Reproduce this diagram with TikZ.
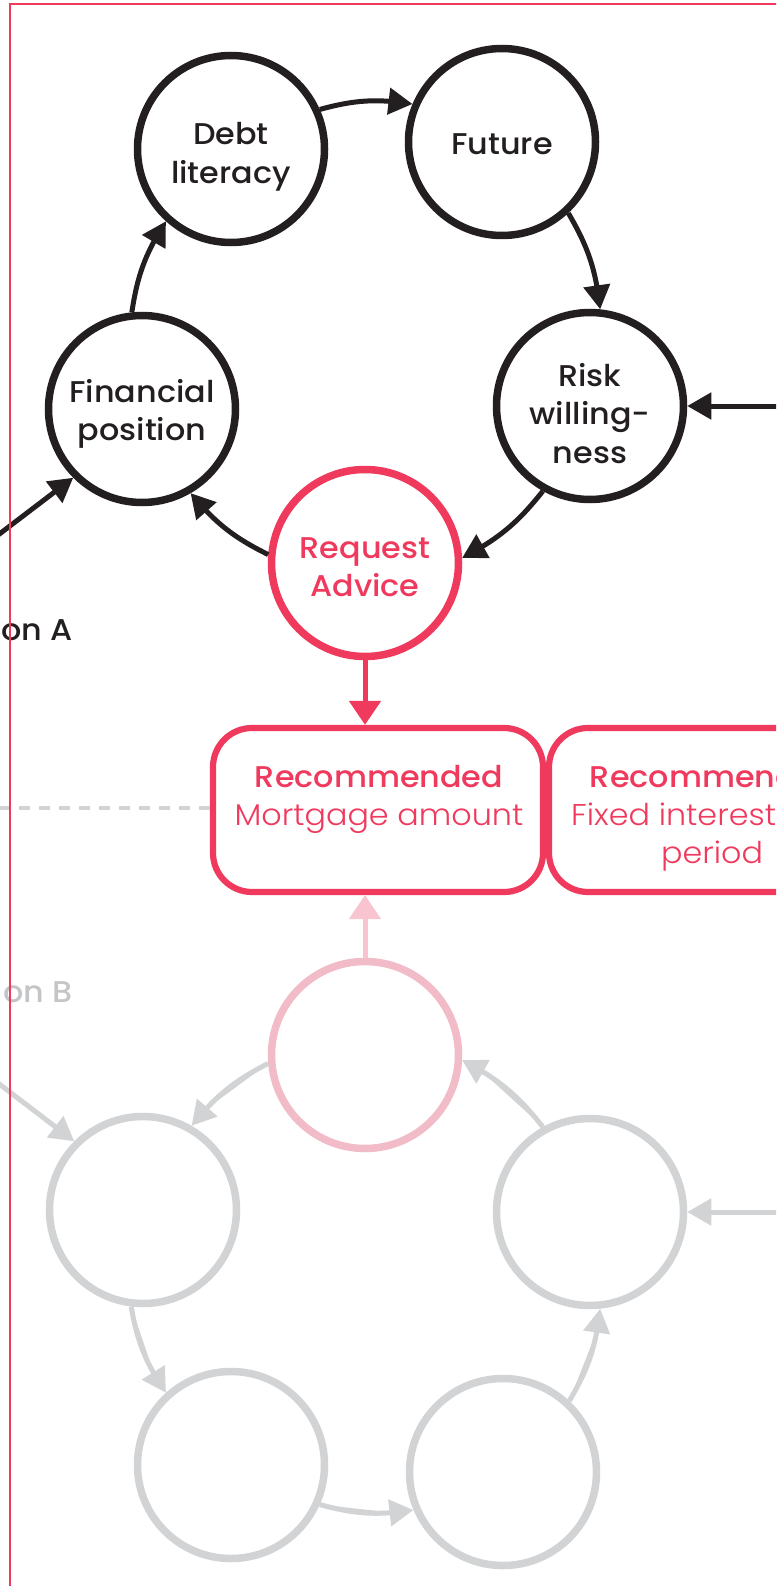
\documentclass[tikz,border=0pt]{standalone}
\usepackage{fontspec}
\setmainfont{Poppins}[FakeStretch=1.06]
\newfontfamily\fmed{Poppins Medium}[FakeStretch=1.06]
\newfontfamily\flight{Poppins Light}[FakeStretch=1.06]
\usetikzlibrary{arrows.meta,bending}
\definecolor{ink}{HTML}{231F20}
\definecolor{rred}{HTML}{EF3A5D}
\definecolor{pinkc}{HTML}{F1BCC8}
\definecolor{pinka}{HTML}{F7C4CF}
\definecolor{lgray}{HTML}{D1D3D4}
\definecolor{tgray}{HTML}{C4C5C7}
\tikzset{
  circ/.style={circle, draw=ink, line width=7.5pt, minimum size=187pt, inner sep=0pt},
  redcirc/.style={circ, draw=rred},
  pinkcirc/.style={circ, draw=pinkc},
  graycirc/.style={circ, draw=lgray},
  ctext/.style={align=center, inner sep=0pt, text depth=0pt, text=ink,
    font=\fmed\fontsize{30}{38.5}\selectfont},
  arr/.style={draw=ink, line width=5pt, -{Triangle[length=24pt,width=26pt,flex]}},
  garr/.style={arr, draw=lgray, fill=lgray},
  redarr/.style={draw=rred, line width=5pt, -{Triangle[length=24pt,width=31pt]}},
  pinkarr/.style={draw=pinka, line width=5pt, -{Triangle[length=24pt,width=31pt]}},
  recbox/.style={draw=rred, line width=6.2pt, rounded corners=39pt, minimum width=330pt,
    minimum height=164pt, inner sep=0pt},
  boxtext/.style={anchor=base, inner sep=0pt, text=rred, font=\fmed\fontsize{30}{38.5}\selectfont},
  boxlight/.style={boxtext, font=\flight\fontsize{30}{38.5}\selectfont},
  sidelbl/.style={anchor=base east, inner sep=0pt, font=\fmed\fontsize{30}{36}\selectfont},
}
\begin{document}
\begin{tikzpicture}[x=1pt,y=1pt]
\useasboundingbox (0,0) rectangle (776,-1586);
\clip (0,0) rectangle (776,-1586);
% top cycle
\node[redcirc] (req) at (365,-563) {};
\node[circ] (fin) at (142,-409) {};
\node[circ] (debt) at (231,-149) {};
\node[circ] (fut) at (502,-142) {};
\node[circ] (risk) at (590,-406) {};
\node[ctext, text=rred] (reqt) at ([yshift=-4pt]req.center) {Request\\Advice};
\node[ctext] (fint) at ([yshift=-1pt]fin.center) {Financial\\position};
\node[ctext] (debtt) at ([yshift=-4pt]debt.center) {Debt\\literacy};
\node[ctext] (futt) at ([yshift=-2pt]fut.center) {Future};
\node[ctext] (riskt) at ([yshift=-7pt]risk.center) {Risk\\willing-\\ness};
\draw[arr] (fin.96.5) to[bend left=12] (debt.228);
\draw[arr] (debt.24) to[bend left=12] (fut.157);
\draw[arr] (fut.-47) to[bend left=12] (risk.84);
\draw[arr] (risk.241) to[bend left=12] (req.3);
\draw[arr] (req.175) to[bend left=12] (fin.300);
% incoming top
\coordinate (inA) at (-40,-564);
\coordinate (inR) at (800,-406);
\draw[arr] (inA) -- (fin.225);
\draw[arr] (inR) -- (risk.0);
\node[sidelbl, text=ink] (lblA) at (73,-640) {on A};
% boxes
\node[recbox] (box1) at (378,-810) {};
\node[recbox] (box2) at (714,-810) {};
\node[boxtext] (t1a) at (379,-787) {Recommended};
\node[boxlight] (t1b) at (379,-825) {Mortgage amount};
\node[boxtext] (t2a) at (714,-787) {Recommended};
\node[boxlight, anchor=base west] (t2b) at (571,-825) {Fixed interest};
\node[boxlight] (t2c) at (712,-863) {period};
\coordinate (dashend) at (-10,-808);
\draw[lgray, line width=4pt, dash pattern=on 11pt off 9pt] ([yshift=2pt]box1.west) -- (dashend);
\draw[redarr] (req.south) -- (req.south |- box1.north);
% bottom cycle
\node[pinkcirc] (preq) at (365,-1055) {};
\node[graycirc] (bfin) at (143,-1210) {};
\node[graycirc] (bdebt) at (231,-1465) {};
\node[graycirc] (bfut) at (503,-1472) {};
\node[graycirc] (brisk) at (590,-1212) {};
\draw[pinkarr] (preq.north) -- (preq.north |- box1.south);
\draw[garr] (preq.185) to[bend right=12] (bfin.60);
\draw[garr] (bfin.263.5) to[bend right=12] (bdebt.132);
\draw[garr] (bdebt.336) to[bend right=12] (bfut.203);
\draw[garr] (bfut.47) to[bend right=12] (brisk.276);
\draw[garr] (brisk.119) to[bend right=12] (preq.357);
\coordinate (inB) at (-40,-1054);
\coordinate (inBR) at (800,-1212);
\draw[garr] (inB) -- (bfin.135);
\draw[garr] (inBR) -- (brisk.0);
\node[sidelbl, text=tgray] (lblB) at (73,-1002) {on B};
% frame
\draw[rred, line width=2.5pt] (790,-4) -- (10,-4) -- (10,-1600);
\end{tikzpicture}
\end{document}
